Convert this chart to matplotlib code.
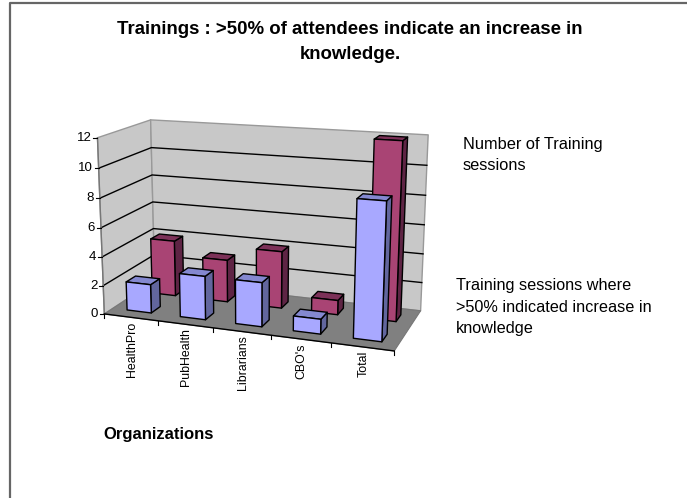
#!/usr/bin/env python3
# -*- coding: utf-8 -*-
import numpy as np
import matplotlib
matplotlib.use('Agg')
import matplotlib.pyplot as plt
from matplotlib.patches import Polygon

plt.rcParams['font.family'] = ['Liberation Sans', 'DejaVu Sans']

categories = ['HealthPro', 'PubHealth', 'Librarians', "CBO's", 'Total']
attended = [2, 3, 3, 1, 9]      # front row, >50% indicated increase
sessions = [4, 3, 4, 1, 12]     # back row, number of sessions
y_ticks = [0, 2, 4, 6, 8, 10, 12]

title = 'Trainings : >50% of attendees indicate an increase in\nknowledge.'
x_label = 'Organizations'
legend_a = 'Number of Training\nsessions'
legend_b = 'Training sessions where\n>50% indicated increase in\nknowledge'

# Box corners seen in the picture: (category, depth, value) -> pixel
box = [(0, 0, 0), (5, 0, 0), (0, 1, 0), (5, 1, 0), (0, 0, 12), (0, 1, 12), (5, 1, 12)]
pix = [(105, 313), (394.3, 351.7), (154, 281.7), (420.7, 310),
       (96.7, 138), (151.5, 119.5), (428, 135)]

# Fit a perspective camera to the corners
rows = []
for (a, b, c), (u, v) in zip(box, pix):
    rows.append([a, b, c, 1, 0, 0, 0, 0, -u*a, -u*b, -u*c, -u])
    rows.append([0, 0, 0, 0, a, b, c, 1, -v*a, -v*b, -v*c, -v])
P = np.linalg.svd(np.array(rows, dtype=float))[2][-1].reshape(3, 4)


def proj(x, d, v):
    p = P @ np.array([x, d, v, 1.0])
    return p[0]/p[2], p[1]/p[2]


fig = plt.figure(figsize=(6.87, 4.98), dpi=100)
ax = fig.add_axes([0, 0, 1, 1])
ax.set_xlim(0, 687)
ax.set_ylim(498, 0)
ax.axis('off')


def face(pts, color, edge='black', lw=1.0, z=2):
    ax.add_patch(Polygon([proj(*p) for p in pts], closed=True, facecolor=color,
                         edgecolor=edge, linewidth=lw, zorder=z, joinstyle='round'))


# Chart frame
ax.plot([9.5, 9.5, 687], [498, 2.5, 2.5], color='#666666', lw=1.6, zorder=1)

# Walls and floor
face([(0, 0, 0), (0, 1, 0), (0, 1, 12), (0, 0, 12)], '#c8c8c8', edge='#999999', lw=1.0)
face([(0, 1, 0), (5, 1, 0), (5, 1, 12), (0, 1, 12)], '#c8c8c8', edge='#999999', lw=1.0)
face([(0, 0, 0), (5, 0, 0), (5, 1, 0), (0, 1, 0)], '#808080', edge='#777777', lw=0.8)

# Gridlines
for t in y_ticks[1:-1]:
    xs, ys = zip(proj(0, 0, t), proj(0, 1, t), proj(5, 1, t))
    ax.plot(xs, ys, color='black', lw=1.0, zorder=3)

# Axis lines, ticks, labels
xs, ys = zip(proj(0, 0, 0), proj(0, 0, 12))
ax.plot(xs, ys, color='#777777', lw=1.0, zorder=3)
xs, ys = zip(proj(0, 0, 0), proj(5, 0, 0))
ax.plot(xs, ys, color='black', lw=1.0, zorder=3)
for t in y_ticks:
    u, v = proj(0, 0, t)
    ax.plot([u-4, u], [v, v], color='black', lw=0.8, zorder=3)
    ax.text(u-6, v, str(t), ha='right', va='center', fontsize=9.5, color='black')
for i in range(6):
    u, v = proj(i, 0, 0)
    ax.plot([u, u], [v, v+4], color='black', lw=0.8, zorder=3)
for i, c in enumerate(categories):
    u, v = proj(i+0.5, 0, 0)
    ax.text(u+1, v+4, c, rotation=90, ha='center', va='top', fontsize=8.9, color='black')


def bar(i, d0, d1, val, front, top, side, z):
    x0, x1 = i+0.27, i+0.73
    face([(x1, d0, 0), (x1, d1, 0), (x1, d1, val), (x1, d0, val)], side, z=z)
    face([(x0, d0, val), (x1, d0, val), (x1, d1, val), (x0, d1, val)], top, z=z)
    face([(x0, d0, 0), (x1, d0, 0), (x1, d0, val), (x0, d0, val)], front, z=z)


for i, val in enumerate(sessions):
    bar(i, 0.66, 0.84, val, '#a94474', '#7c3158', '#5e2444', 5)
for i, val in enumerate(attended):
    bar(i, 0.16, 0.34, val, '#a8a8ff', '#8488d0', '#62669e', 6)

# Texts
ax.text(350, 42, title, ha='center', va='center', fontsize=13.4, fontweight='bold',
        linespacing=1.55, color='black')
ax.text(103, 434, x_label, ha='left', va='center', fontsize=12, fontweight='bold', color='black')
ax.text(463, 155, legend_a, ha='left', va='center', fontsize=11.8, linespacing=1.5, color='black')
ax.text(456, 307, legend_b, ha='left', va='center', fontsize=11.7, linespacing=1.55, color='black')

fig.savefig('out.png', dpi=100)
